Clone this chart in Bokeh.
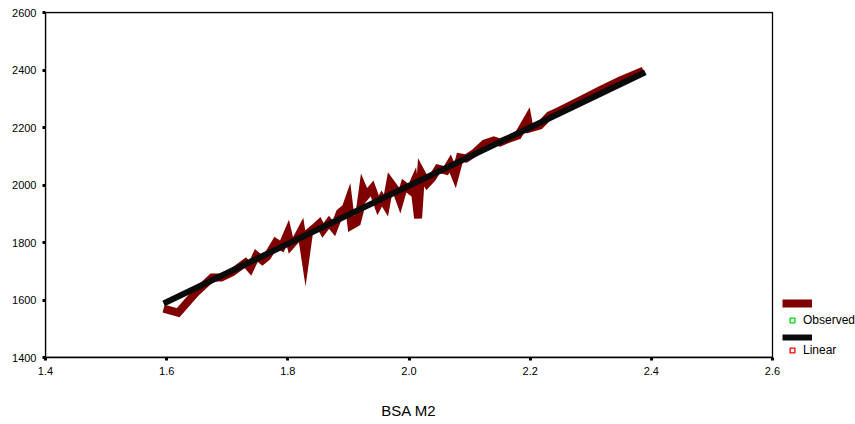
from bokeh.plotting import figure
from bokeh.models import (Range1d, FixedTicker, Legend, LegendItem,
                          BoxAnnotation)
from bokeh.embed import file_html
from bokeh.resources import INLINE

# ---- data ----
bsa = [1.595, 1.619, 1.647, 1.675, 1.690, 1.708, 1.730, 1.738, 1.748, 1.758,
       1.766, 1.780, 1.790, 1.800, 1.805, 1.815, 1.822, 1.829, 1.835, 1.843,
       1.852, 1.858, 1.868, 1.876, 1.886, 1.896, 1.900, 1.905, 1.914, 1.919,
       1.924, 1.929, 1.939, 1.949, 1.955, 1.962, 1.969, 1.979, 1.985, 1.992,
       2.002, 2.008, 2.015, 2.020, 2.030, 2.038, 2.048, 2.061, 2.068, 2.076,
       2.084, 2.094, 2.109, 2.125, 2.140, 2.150, 2.166, 2.180, 2.196, 2.199,
       2.216, 2.232, 2.249, 2.282, 2.315, 2.348, 2.387]
observed = [1570, 1556, 1623, 1678, 1678, 1696, 1730, 1710, 1755, 1737,
            1751, 1800, 1786, 1835, 1790, 1814, 1842, 1744, 1835, 1849,
            1866, 1842, 1870, 1849, 1904, 1922, 1946, 1859, 1870, 1911,
            1988, 1963, 1988, 1929, 1953, 1929, 2010, 1981, 1946, 1998,
            1981, 2010, 1884, 2044, 2005, 2023, 2057, 2050, 2075, 2033,
            2096, 2092, 2113, 2144, 2155, 2148, 2162, 2172, 2231, 2197,
            2207, 2242, 2259, 2294, 2329, 2363, 2398]

linear_x = [1.595, 2.390]
linear_y = [1588, 2392]

x_ticks = [1.4, 1.6, 1.8, 2.0, 2.2, 2.4, 2.6]
x_tick_labels = ["1.4", "1.6", "1.8", "2.0", "2.2", "2.4", "2.6"]
y_ticks = [1400, 1600, 1800, 2000, 2200, 2400, 2600]
x_title = "BSA M2"

X0, X1 = 1.4, 2.6
Y0, Y1 = 1400, 2600

FONT = "Liberation Sans"

# layout (pixels)
W, H = 855, 422
LEFT, TOP = 45, 11
BOX_W, BOX_H = 727, 345          # pixel size of the 1.4..2.6 x 1400..2600 box
FRAME_W = W - LEFT
FRAME_H = BOX_H + 1
BOTTOM = H - TOP - FRAME_H

x_end = X0 + (X1 - X0) * FRAME_W / BOX_W
y_end = Y0 + (Y1 - Y0) * FRAME_H / BOX_H

p = figure(width=W, height=H, output_backend="svg", toolbar_location=None,
           x_range=Range1d(X0, x_end), y_range=Range1d(Y0, y_end),
           min_border_left=LEFT, min_border_right=0, min_border_top=TOP,
           min_border_bottom=BOTTOM)

p.grid.visible = False
p.outline_line_color = None
p.background_fill_color = "white"
p.border_fill_color = "white"

for ax in (p.xaxis[0], p.yaxis[0]):
    ax.axis_line_color = "black"
    ax.axis_line_width = 1.3
    ax.major_tick_in = 0
    ax.major_tick_out = 3
    ax.major_tick_line_width = 3
    ax.major_tick_line_color = "black"
    ax.minor_tick_line_color = None
    ax.major_label_text_font = FONT
    ax.major_label_text_font_size = "11px"
    ax.major_label_text_color = "black"

p.xaxis.bounds = (X0, X1)
p.yaxis.bounds = (Y0, Y1)
p.xaxis.ticker = FixedTicker(ticks=x_ticks)
p.xaxis.major_label_overrides = {t: l for t, l in zip(x_ticks, x_tick_labels)}
p.yaxis.ticker = FixedTicker(ticks=y_ticks)
p.xaxis.major_label_standoff = 6
p.yaxis.major_label_standoff = 6

# the axis title is centred on the whole frame; trailing no-break spaces
# shift it back to the centre of the plotted box
p.xaxis.axis_label = x_title + "\u00a0" * 20
p.xaxis.axis_label_text_font = FONT
p.xaxis.axis_label_text_font_size = "15px"
p.xaxis.axis_label_text_font_style = "normal"
p.xaxis.axis_label_text_color = "black"
p.xaxis.axis_label_standoff = 24

# plot box (top and right edges; left/bottom are the axis lines)
p.add_layout(BoxAnnotation(left=X0, right=X1, bottom=Y0, top=Y1,
                           fill_alpha=0, line_color="black", line_alpha=1.0,
                           line_width=1.3))

r_obs = p.line(bsa, observed, line_color="#800000", line_width=8,
               line_join="miter")
r_lin = p.line(linear_x, linear_y, line_color="#0a0a0a", line_width=6,
               line_join="miter")

m_obs = p.scatter(bsa, observed, marker="square", fill_color="white",
                  line_color="#00dd00", line_width=1.3, visible=False)
m_lin = p.scatter(linear_x, linear_y, marker="square", fill_color="white",
                  line_color="#ee0000", line_width=1.3, visible=False)


def add_legend(renderer, label, loc, gw):
    lg = Legend(items=[LegendItem(label=label, renderers=[renderer])],
                location=loc, padding=0, margin=0, spacing=0,
                border_line_color=None, background_fill_alpha=0,
                inactive_fill_alpha=0, click_policy="none",
                glyph_width=gw, glyph_height=12, label_height=12,
                label_standoff=5, label_text_font=FONT,
                label_text_font_size="12px", label_text_color="black")
    p.add_layout(lg, "center")


add_legend(r_obs, " ", (737, 48), 30)
add_legend(m_obs, "Observed", (741, 30), 12)
add_legend(r_lin, " ", (737, 14), 30)
add_legend(m_lin, "Linear", (741, 0), 12)

open("out.html", "w").write(file_html(p, INLINE))
